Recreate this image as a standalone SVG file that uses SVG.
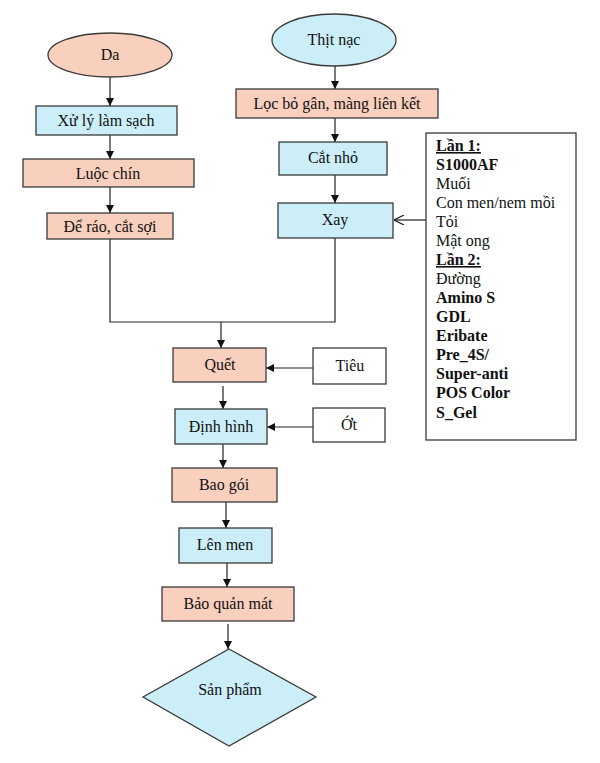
<svg xmlns="http://www.w3.org/2000/svg" width="600" height="763" viewBox="0 0 600 763">
<defs>
<style>
.s{fill:#F9CFBD;stroke:#3a3a3a;stroke-width:1.3}
.b{fill:#CCEEF8;stroke:#3a3a3a;stroke-width:1.3}
.w{fill:#fff;stroke:#3a3a3a;stroke-width:1.3}
text{font-family:"Liberation Serif","Times New Roman",serif;font-size:16px;fill:#111}
.c{text-anchor:middle}
.ln{fill:none;stroke:#222;stroke-width:1.2}
.bd{font-weight:bold}
</style>
<marker id="a" viewBox="0 0 10 10" refX="10" refY="5" markerWidth="8" markerHeight="8" markerUnits="userSpaceOnUse" orient="auto"><path d="M0,0 L10,5 L0,10 z" fill="#111"/></marker>
<marker id="o" viewBox="0 0 10 10" refX="10" refY="5" markerWidth="10" markerHeight="10" markerUnits="userSpaceOnUse" orient="auto"><path d="M0,0 L10,5 L0,10" fill="none" stroke="#222" stroke-width="1.2"/></marker>
</defs>
<rect width="600" height="763" fill="#fff"/>
<g id="connectors">
<line class="ln" x1="110" y1="77" x2="110" y2="106" marker-end="url(#a)"/>
<line class="ln" x1="110" y1="135" x2="110" y2="159" marker-end="url(#a)"/>
<line class="ln" x1="110" y1="187" x2="110" y2="213" marker-end="url(#a)"/>
<polyline class="ln" points="110,239 110,322 335,322 335,238"/>
<line class="ln" x1="335" y1="66" x2="335" y2="89" marker-end="url(#a)"/>
<line class="ln" x1="335" y1="118" x2="335" y2="142" marker-end="url(#a)"/>
<line class="ln" x1="335" y1="175" x2="335" y2="203" marker-end="url(#a)"/>
<line class="ln" x1="426" y1="220" x2="394" y2="220" marker-end="url(#o)"/>
<line class="ln" x1="221" y1="322" x2="221" y2="348" marker-end="url(#a)"/>
<line class="ln" x1="313" y1="368" x2="266" y2="368" marker-end="url(#a)"/>
<line class="ln" x1="223" y1="386" x2="223" y2="409" marker-end="url(#a)"/>
<line class="ln" x1="313" y1="427" x2="267" y2="427" marker-end="url(#a)"/>
<line class="ln" x1="223" y1="444" x2="223" y2="468" marker-end="url(#a)"/>
<line class="ln" x1="226" y1="502" x2="226" y2="528" marker-end="url(#a)"/>
<line class="ln" x1="227" y1="563" x2="227" y2="587" marker-end="url(#a)"/>
<line class="ln" x1="228" y1="624" x2="228" y2="649" marker-end="url(#a)"/>
</g>
<g id="da"><ellipse class="s" cx="110" cy="55" rx="62" ry="22"/><text class="c" x="110" y="60">Da</text></g>
<g id="xu-ly"><rect class="b" x="36" y="106" width="141" height="29"/><text class="c" x="106" y="126">Xử lý làm sạch</text></g>
<g id="luoc-chin"><rect class="s" x="23" y="159" width="171" height="28"/><text class="c" x="108" y="179">Luộc chín</text></g>
<g id="de-rao"><rect class="s" x="47" y="213" width="126" height="26"/><text class="c" x="110" y="232">Để ráo, cắt sợi</text></g>
<g id="thit-nac"><ellipse class="b" cx="334" cy="40" rx="62" ry="26"/><text class="c" x="334" y="45">Thịt nạc</text></g>
<g id="loc-bo"><rect class="s" x="236" y="89" width="202" height="29"/><text class="c" x="337" y="109">Lọc bỏ gân, màng liên kết</text></g>
<g id="cat-nho"><rect class="b" x="279" y="142" width="108" height="33"/><text class="c" x="333" y="163">Cắt nhỏ</text></g>
<g id="xay"><rect class="b" x="278" y="203" width="115" height="35"/><text class="c" x="335" y="225">Xay</text></g>
<g id="phu-gia"><rect class="w" x="426" y="133" width="150" height="307"/>
<text x="436" y="151" class="bd" text-decoration="underline">Lần 1:</text>
<text x="436" y="170" class="bd">S1000AF</text>
<text x="436" y="189">Muối</text>
<text x="436" y="208">Con men/nem mồi</text>
<text x="436" y="227">Tỏi</text>
<text x="436" y="246">Mật ong</text>
<text x="436" y="265" class="bd" text-decoration="underline">Lần 2:</text>
<text x="436" y="284">Đường</text>
<text x="436" y="303" class="bd">Amino S</text>
<text x="436" y="322" class="bd">GDL</text>
<text x="436" y="341" class="bd">Eribate</text>
<text x="436" y="360" class="bd">Pre_4S/</text>
<text x="436" y="379" class="bd">Super-anti</text>
<text x="436" y="398" class="bd">POS Color</text>
<text x="436" y="418" class="bd">S_Gel</text>
</g>
<g id="quet"><rect class="s" x="173" y="348" width="93" height="34"/><text class="c" x="220" y="370">Quết</text></g>
<g id="tieu"><rect class="w" x="313" y="348" width="73" height="36"/><text class="c" x="350" y="371">Tiêu</text></g>
<g id="dinh-hinh"><rect class="b" x="175" y="409" width="92" height="35"/><text class="c" x="221" y="432">Định hình</text></g>
<g id="ot"><rect class="w" x="313" y="408" width="72" height="34"/><text class="c" x="349" y="430">Ớt</text></g>
<g id="bao-goi"><rect class="s" x="172" y="468" width="105" height="34"/><text class="c" x="224" y="490">Bao gói</text></g>
<g id="len-men"><rect class="b" x="179" y="528" width="93" height="35"/><text class="c" x="225" y="550">Lên men</text></g>
<g id="bao-quan"><rect class="s" x="162" y="587" width="132" height="34"/><text class="c" x="228" y="609">Bảo quản mát</text></g>
<g id="san-pham"><polygon class="b" points="229,649 316,697 229,746 143,697"/><text class="c" x="230" y="695">Sản phẩm</text></g>
</svg>
